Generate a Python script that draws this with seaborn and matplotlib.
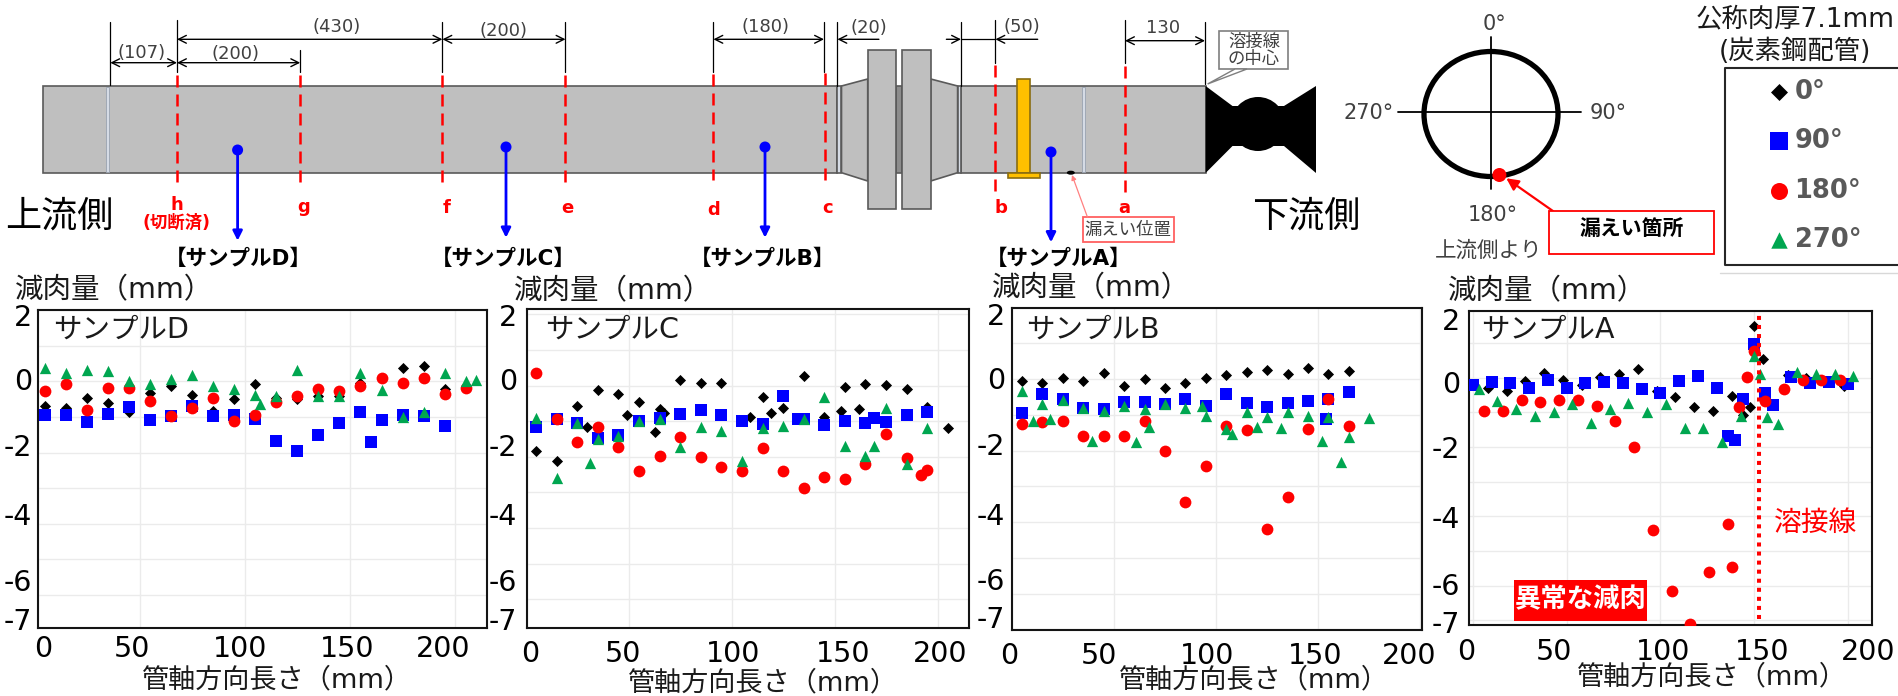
import matplotlib
matplotlib.use("Agg")
import matplotlib.pyplot as plt
from matplotlib.patches import Rectangle, Polygon, Ellipse, Circle
from matplotlib.transforms import ScaledTranslation
import seaborn as sns

# ---- data: sample D
D_X0 = [5,15,25,35,45,55,65,75,85,95,105,115,125,135,145,155,175,185,195]
D_Y0 = [-0.68,-0.75,-0.47,-0.61,-0.87,-0.33,-0.14,-0.39,-0.84,-0.5,-0.07,-0.45,-0.5,-0.42,-0.42,-0.05,0.37,0.43,-0.21]
D_X90 = [5,15,25,35,45,55,65,75,85,95,105,115,125,135,145,155,160,165,175,185,195]
D_Y90 = [-0.93,-0.93,-1.15,-0.92,-0.72,-1.09,-0.98,-0.7,-0.96,-0.95,-1.06,-1.68,-1.95,-1.51,-1.16,-0.85,-1.7,-1.07,-0.93,-0.98,-1.24]
D_X180 = [5,15,25,35,45,55,65,75,85,95,105,115,125,135,145,155,165,175,185,195,205]
D_Y180 = [-0.26,-0.07,-0.8,-0.19,-0.19,-0.55,-0.97,-0.75,-0.47,-1.1,-0.93,-0.58,-0.41,-0.21,-0.26,-0.12,0.11,-0.03,0.11,-0.36,-0.17]
D_X270 = [5,15,25,35,45,55,65,75,85,95,105,107,115,125,135,145,155,165,175,185,195,205,210]
D_Y270 = [0.37,0.25,0.33,0.3,0.0,-0.07,0.07,0.17,-0.14,-0.2,-0.37,-0.62,-0.42,0.32,-0.4,-0.4,0.23,-0.23,-1.0,-0.87,0.25,0.02,0.03]
# ---- data: sample C
C_X0 = [5,15,25,30,35,45,49,55,63,65,67,75,85,95,109,115,119,125,135,145,153,155,162,165,175,185,195,205]
C_Y0 = [-1.85,-2.11,-0.57,-1.15,-0.12,-0.23,-0.82,-0.46,-1.29,-0.67,-0.76,0.15,0.07,0.07,-0.87,-0.31,-0.77,-0.63,0.27,-0.87,-0.71,-0.05,-0.65,0.05,0.03,-0.1,-0.59,-1.18]
C_X90 = [5,15,25,35,45,55,65,75,85,95,105,115,125,132,135,145,155,165,169,175,185,195]
C_Y90 = [-1.15,-0.93,-1.04,-1.48,-1.4,-0.98,-0.92,-0.79,-0.68,-0.82,-0.98,-1.08,-0.29,-0.95,-0.93,-1.11,-0.99,-1.05,-0.92,-1.02,-0.83,-0.73]
C_X180 = [5,15,25,35,45,55,65,75,85,95,105,115,125,135,145,155,165,175,185,192,195]
C_Y180 = [0.36,-0.93,-1.58,-1.16,-1.72,-2.39,-1.97,-1.45,-2.0,-2.29,-2.39,-1.76,-2.41,-2.87,-2.57,-2.61,-2.21,-1.37,-2.03,-2.51,-2.37]
C_X270 = [5,15,25,31,35,45,55,65,75,85,95,105,115,125,135,145,155,165,169,175,185,195]
C_Y270 = [-0.9,-2.59,-1.05,-2.18,-1.5,-1.42,-0.99,-0.93,-1.73,-1.16,-1.27,-2.13,-1.2,-1.12,-0.94,-0.33,-1.7,-1.97,-1.7,-0.63,-2.2,-1.2]
# ---- data: sample B
B_X0 = [5,15,25,35,45,55,65,75,85,95,105,115,125,135,145,155,165]
B_Y0 = [-0.06,-0.1,0.04,-0.06,0.18,-0.2,0.0,-0.26,-0.12,0.04,0.11,0.21,0.26,0.14,0.3,0.14,0.22]
B_X90 = [5,15,25,35,45,55,65,75,85,95,105,115,125,135,145,154,155,165]
B_Y90 = [-0.95,-0.43,-0.56,-0.8,-0.83,-0.65,-0.64,-0.7,-0.55,-0.74,-0.43,-0.66,-0.79,-0.68,-0.6,-1.13,-0.55,-0.37]
B_X180 = [5,15,25,35,45,55,65,75,85,95,105,115,125,135,145,155,165]
B_Y180 = [-1.27,-1.21,-1.16,-1.58,-1.58,-1.6,-1.18,-2.0,-3.44,-2.44,-1.31,-1.43,-4.2,-3.29,-1.39,-0.55,-1.32]
B_X270 = [5,10.4,15,18.8,25,35,39.4,45,55,61,65,67.3,75,85,93,95,105,108,115,120,125,131.7,135,145,152,155,161,165,175]
B_Y270 = [-0.33,-1.18,-0.71,-1.13,-0.58,-0.81,-1.74,-0.89,-0.75,-1.77,-0.85,-1.35,-0.71,-0.8,-0.75,-1.04,-1.4,-1.55,-0.92,-1.33,-1.05,-1.37,-0.92,-1.04,-1.73,-1.05,-2.33,-1.63,-1.1]
# ---- data: sample A
A_X0 = [8,18,28,38,48,58,68,78,88,98,108,118,128,138,144,148,150,155,168,178,198]
A_Y0 = [-0.3,-0.38,-0.11,0.13,-0.06,-0.22,0.03,0.09,0.26,-0.38,-0.57,-0.84,-0.95,-0.53,-1.08,-0.85,1.49,0.53,0.07,-0.02,-0.24]
A_X90 = [0,10,20,30,40,50,60,70,80,90,100,110,120,130,136,140,144,150,156,160,170,180,190,200]
A_Y90 = [-0.22,-0.12,-0.16,-0.31,-0.07,-0.31,-0.16,-0.13,-0.16,-0.32,-0.44,-0.11,0.05,-0.31,-1.68,-1.81,-0.62,0.97,-0.43,-0.8,0.01,-0.16,-0.14,-0.18]
A_X180 = [6,16,26,36,46,56,66,76,86,96,106,116,126,136,138,142,146,150,156,166,176,186,196]
A_Y180 = [-0.95,-0.95,-0.64,-0.71,-0.64,-0.64,-0.83,-1.24,-2.0,-4.38,-6.14,-7.09,-5.6,-4.22,-5.47,-0.84,0.02,0.77,-0.66,-0.34,-0.06,-0.06,-0.06]
A_X270 = [3,13,23,33,43,53,63,73,83,93,103,113,123,133,143,150,153,157,163,173,183,193,203]
A_Y270 = [-0.32,-0.68,-0.91,-1.11,-0.98,-0.76,-1.32,-0.91,-0.72,-0.98,-0.77,-1.44,-1.44,-1.85,-1.12,0.61,0.1,-1.14,-1.35,0.17,0.09,0.09,0.06]

X_TICK_LABELS = ["0", "50", "100", "150", "200"]
Y_TICK_LABELS = ["2", "0", "-2", "-4", "-6", "-7"]
ANGLES = ["0°", "90°", "180°", "270°"]
PANEL_NAMES = ["サンプルD", "サンプルC", "サンプルB", "サンプルA"]

W, H = 1899, 696
sns.set_theme(style="white")
plt.rcParams["font.family"] = ["DejaVu Sans", "Noto Sans CJK JP"]
fig = plt.figure(figsize=(W / 100, H / 100), dpi=100, facecolor="white")

STY = [("#000000", "D", 32), ("#0000ff", "s", 72), ("#ff0000", "o", 72), ("#00a650", "^", 66)]

panels = [
    dict(series=[(D_X0, D_Y0), (D_X90, D_Y90), (D_X180, D_Y180), (D_X270, D_Y270)],
         rect=(37.7, 487.3, 310, 628), xlim=(1.5, 215.3), ylim=(-6.93, 2.01),
         xt=[43, 132, 240, 347, 443], xty=649, yt=[318, 382, 448, 517, 583, 622], ytx=32,
         xl=(277, 680), yl=(114, 290), title=(53, 330)),
    dict(series=[(C_X0, C_Y0), (C_X90, C_Y90), (C_X180, C_Y180), (C_X270, C_Y270)],
         rect=(526.7, 969.3, 309.3, 628.3), xlim=(0.5, 215.4), ylim=(-6.82, 2.146),
         xt=[530, 623, 733, 843, 940], xty=654, yt=[318, 382, 448, 517, 583, 622], ytx=517,
         xl=(763, 683), yl=(613, 291), title=(545, 330)),
    dict(series=[(B_X0, B_Y0), (B_X90, B_Y90), (B_X180, B_Y180), (B_X270, B_Y270)],
         rect=(1011.7, 1421.7, 308.3, 630), xlim=(0, 200.6), ylim=(-7.02, 1.98),
         xt=[1009, 1099, 1207, 1315, 1409], xty=656, yt=[317, 381, 447, 517, 582, 620], ytx=1005,
         xl=(1254, 680), yl=(1091, 288), title=(1026, 330)),
    dict(series=[(A_X0, A_Y0), (A_X90, A_Y90), (A_X180, A_Y180), (A_X270, A_Y270)],
         rect=(1469, 1871.7, 311, 625), xlim=(-2.1, 212.8), ylim=(-7.13, 1.92),
         xt=[1466, 1554, 1663, 1762, 1868], xty=652, yt=[322, 385, 450, 520, 587, 625], ytx=1460,
         xl=(1712, 677), yl=(1547, 291), title=(1481, 330)),
]

axes = []
for p in panels:
    l, r, t, b = p["rect"]
    ax = fig.add_axes([l / W, 1 - b / H, (r - l) / W, (b - t) / H], facecolor="white")
    axes.append(ax)
    for (xs, ys), (c, m, s) in zip(p["series"], STY):
        sns.scatterplot(x=xs, y=ys, ax=ax, color=c, marker=m, s=s, linewidth=0, legend=False, zorder=3)
    x0, x1 = p["xlim"]; y0, y1 = p["ylim"]
    ax.set_xlim(x0, x1); ax.set_ylim(y0, y1)
    xvals = [max(v, x0) for v in [0, 50, 100, 150, 200]]
    yvals = [min(max(v, y0), y1) for v in [2, 0, -2, -4, -6, -7]]
    ax.set_xticks(xvals); ax.set_xticklabels(X_TICK_LABELS)
    ax.set_yticks(yvals); ax.set_yticklabels(Y_TICK_LABELS)
    ax.set_yticks([1, -1, -3, -5], minor=True)
    ax.set_axisbelow(True)
    ax.grid(True, which="both", color="#ebebeb", lw=1)
    ax.tick_params(which="both", length=0, pad=0, labelsize=20.5, colors="#000000")
    for sp in ax.spines.values():
        sp.set_edgecolor("#141414"); sp.set_linewidth(1.5)
    sx = (r - l) / (x1 - x0); sy = (b - t) / (y1 - y0)
    for val, lab, tx in zip(xvals, ax.get_xticklabels(), p["xt"]):
        dx = tx - (l + (val - x0) * sx); dy = -(p["xty"] - b)
        lab.set_va("center"); lab.set_ha("center")
        lab.set_transform(lab.get_transform() + ScaledTranslation(dx / 100, dy / 100, fig.dpi_scale_trans))
    for val, lab, ty in zip(yvals, ax.get_yticklabels(), p["yt"]):
        dy = -(ty - (b - (val - y0) * sy)); dx = p["ytx"] - l
        lab.set_va("center"); lab.set_ha("right")
        lab.set_transform(lab.get_transform() + ScaledTranslation(dx / 100, dy / 100, fig.dpi_scale_trans))
    ax.set_xlabel("管軸方向長さ（mm）", fontsize=19.5, color="#1a1a1a")
    ax.xaxis.set_label_coords((p["xl"][0] - l) / (r - l), (b - p["xl"][1]) / (b - t))
    ax.xaxis.label.set_va("center")
    ax.set_ylabel("減肉量（mm）", fontsize=20.5, color="#1a1a1a", rotation=0, ha="center", va="center")
    ax.yaxis.set_label_coords((p["yl"][0] - l) / (r - l), (b - p["yl"][1]) / (b - t))

axes[3].axvline(152.5, color="#ff0000", lw=2.9, linestyle=(0, (1, 1.25)), ymin=0.02, ymax=1.0, zorder=4)

# ---- overlay drawn in pixel coordinates: pipe schematic and annotations
ov = fig.add_axes([0, 0, 1, 1], zorder=5)
ov.set_xlim(0, W); ov.set_ylim(H, 0); ov.axis("off"); ov.patch.set_alpha(0)

GREY, EDGE = "#bfbfbf", "#5a5a5a"

def rect(x0, x1, y0, y1, fc=GREY, ec=EDGE, lw=1.2, z=2):
    ov.add_patch(Rectangle((x0, y0), x1 - x0, y1 - y0, fc=fc, ec=ec, lw=lw, zorder=z))

def line(xs, ys, c="#000000", lw=1.0, z=3, **k):
    ov.plot(xs, ys, color=c, lw=lw, zorder=z, **k)

def txt(x, y, s, size, c="#000000", **k):
    k.setdefault("ha", "center")
    ov.text(x, y, s, fontsize=size, color=c, va="center", zorder=8, **k)

def arrow(a, b, style="<->", c="#000000", lw=1.0, ms=14, z=6):
    ov.annotate("", xy=b, xytext=a, zorder=z,
                arrowprops=dict(arrowstyle=style, color=c, lw=lw, mutation_scale=ms, shrinkA=0, shrinkB=0))

rect(42.7, 837, 86, 172.7)
rect(961, 1205.6, 86, 172.7)
ov.add_patch(Polygon([(841.5, 86), (867.7, 79), (867.7, 181), (841.5, 172.7)], fc=GREY, ec=EDGE, lw=1.2, zorder=2))
ov.add_patch(Polygon([(930.7, 79), (957.6, 86), (957.6, 172.7), (930.7, 181)], fc=GREY, ec=EDGE, lw=1.2, zorder=2))
rect(837, 841.5, 86, 172.7, fc="#d5dbe5")
rect(957.6, 961.4, 86, 172.7, fc="#d5dbe5")
rect(895.9, 902, 86, 172.7, fc="#8c8c8c")
rect(867.7, 895.9, 50, 209)
rect(902, 930.7, 50, 209)
for wx in [107.8, 1083.2]:
    rect(wx - 1.5, wx + 1.5, 86.5, 172.2, fc="#d5dbe5", ec="#9aa3b0", lw=0.6)
rect(1017.3, 1030.2, 79, 173.3, fc="#ffc000", ec="#8a6d10", z=4)
rect(1007.8, 1040, 173.3, 177.7, fc="#ffc000", ec="#8a6d10", z=4)
ov.add_patch(Ellipse((1070.8, 172.7), 8, 4, fc="#000000", ec="none", zorder=5))

ov.add_patch(Polygon([(1205.6, 86), (1232.5, 106), (1284, 106), (1316, 86),
                      (1316, 173), (1284, 146), (1232.5, 146), (1205.6, 173)],
                     fc="#000000", ec="none", zorder=4))
ov.add_patch(Circle((1258, 124), 27, fc="#000000", ec="none", zorder=4))

DASH = (0, (4.8, 2.8))
for cx, ya, yb in [(177, 75, 182), (300.2, 75, 182), (442.4, 75, 182), (565.5, 75, 182),
                   (713.4, 74, 180), (825, 73, 180), (995.4, 65, 192), (1125, 66, 192)]:
    line([cx, cx], [ya, yb], c="#ff0000", lw=1.8, z=5, linestyle=DASH)
for cx, ya, yb in [(110.3, 22, 85), (177, 20, 72), (300.2, 50, 72), (442.4, 22, 72), (565.5, 22, 72),
                   (713.4, 22, 72), (824, 22, 72), (836.6, 22, 86), (961, 22, 86),
                   (995.4, 20, 63), (1125, 20, 63), (1205, 22, 84)]:
    line([cx, cx], [ya, yb], lw=0.9)

for a, b in [((110.3, 62.7), (177, 62.7)), ((177, 62.7), (300.2, 62.7)), ((177, 39.3), (442.4, 39.3)),
             ((442.4, 39.3), (565.5, 39.3)), ((713.4, 39.3), (824, 39.3)), ((1125, 40.7), (1205, 40.7))]:
    arrow(a, b)
for a, b in [((878.9, 39.3), (837.4, 39.3)), ((946.4, 39.3), (961, 39.3)), ((1037.7, 39.3), (995.4, 39.3))]:
    arrow(a, b, style="->")
line([961, 995.4], [39.3, 39.3], lw=0.9)

DIM = "#404040"
for x, y, s in [(141.8, 53, "(107)"), (236, 54, "(200)"), (336.7, 26.7, "(430)"), (503.7, 30.7, "(200)"),
                (766, 27.3, "(180)"), (869, 28, "(20)"), (1022, 26.7, "(50)"), (1163, 28, "130")]:
    txt(x, y, s, 13, DIM)

for x, ya, yb in [(237.6, 150, 240.7), (506, 147, 237.7), (765, 147, 237.7), (1051, 152, 242.3)]:
    arrow((x, ya), (x, yb), style="-|>", c="#0000ff", lw=2.0, ms=14)
    ov.add_patch(Circle((x, ya), 5.5, fc="#0000ff", ec="none", zorder=7))

for x, s in [(238.4, "【サンプルD】"), (503.7, "【サンプルC】"), (762.8, "【サンプルB】"), (1058.4, "【サンプルA】")]:
    txt(x, 259, s, 15.5, weight="bold")

txt(177, 205, "h", 13, "#ff0000", weight="bold")
txt(177, 223, "(切断済)", 12.5, "#ff0000", weight="bold")
for x, y, s in [(304, 207, "g"), (446.5, 208, "f"), (567, 208, "e"), (713.4, 210, "d"),
                (828, 208, "c"), (1000.7, 208, "b"), (1123.9, 208, "a")]:
    txt(x, y, s, 13, "#ff0000", weight="bold")

txt(59, 217, "上流側", 26)
txt(1306, 217, "下流側", 26)

rect(1219, 1288.5, 30.7, 69, fc="white", ec="#7f7f7f", lw=1.2, z=6)
ov.add_patch(Polygon([(1247, 69), (1207.6, 84), (1235, 69)], fc="white", ec="#7f7f7f", lw=1, zorder=6))
txt(1254, 42, "溶接線", 12.5, DIM)
txt(1254, 59, "の中心", 12.5, DIM)

rect(1082.8, 1174.5, 217, 241.7, fc="white", ec="#ff6060", lw=1.3, z=6)
txt(1128, 230, "漏えい位置", 12.5, DIM)
arrow((1087.4, 217), (1072, 175), style="-|>", c="#ff8080", lw=0.9, ms=7)

# circle of pipe section
ov.add_patch(Ellipse((1491, 114), 134, 125, fc="none", ec="#000000", lw=3.8, zorder=4))
line([1491, 1491], [36.7, 189], lw=1.3)
line([1398.5, 1581.5], [112.3, 112.3], lw=1.3)
ov.add_patch(Circle((1499.4, 175), 7, fc="#ff0000", ec="none", zorder=6))
arrow((1552.9, 211), (1506.3, 178.3), style="-|>", c="#ff0000", lw=1.6, ms=18)
txt(1494.8, 24, "0°", 15, DIM)
txt(1368.8, 113, "270°", 15, DIM)
txt(1608, 113, "90°", 15, DIM)
txt(1493, 215, "180°", 15, DIM)
txt(1489, 250.7, "上流側より", 15.5, DIM)
rect(1549, 1714.4, 211, 254.3, fc="white", ec="#ff0000", lw=1.3, z=6)
txt(1631.5, 229, "漏えい箇所", 15, weight="bold")

# legend panel
txt(1795, 19, "公称肉厚7.1mm", 19, "#1a1a1a")
txt(1795, 51.7, "(炭素鋼配管)", 19, "#1a1a1a")
line([1720, 1899], [273, 273], c="#d8d8d8", lw=1, z=1)
line([1899, 1724.8, 1724.8, 1899], [67.7, 67.7, 265, 265], c="#262626", lw=1.5, z=5)
for (c, m, s), y, lab, ss in zip(STY, [91.7, 141, 190.7, 240], ANGLES, [75, 150, 150, 140]):
    ov.scatter([1779.4], [y], c=c, marker=m, s=ss, linewidths=0, zorder=6)
    txt(1794.6, y, lab, 18.5, "#595959", ha="left", weight="bold")

for p, name in zip(panels, PANEL_NAMES):
    txt(p["title"][0], p["title"][1], name, 20.5, "#1a1a1a", ha="left")

txt(1816, 522.7, "溶接線", 20, "#ff0000")
rect(1514, 1647, 580, 621, fc="#ff0000", ec="none", lw=0, z=6)
txt(1580.5, 600.5, "異常な減肉", 19, "#ffffff", weight="bold")

fig.savefig("out.png", dpi=100, facecolor="white")
